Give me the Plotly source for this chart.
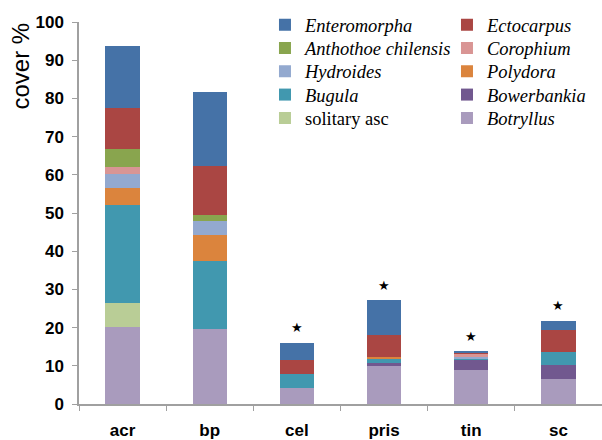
import plotly.graph_objects as go

sites = ["acr", "bp", "cel", "pris", "tin", "sc"]

# stacked from bottom to top
botryllus    = [20.2, 19.6, 4.1, 10.2, 8.8, 6.6]
solitary_asc = [6.2, 0.0, 0.0, 0.0, 0.0, 0.0]
bowerbankia  = [0.0, 0.0, 0.0, 0.5, 2.9, 3.6]
bugula       = [25.7, 17.9, 3.7, 1.1, 0.3, 3.3]
polydora     = [4.5, 6.8, 0.0, 0.4, 0.0, 0.0]
hydroides    = [3.6, 3.5, 0.0, 0.0, 0.4, 0.0]
corophium    = [1.8, 0.0, 0.0, 0.0, 0.8, 0.0]
anthothoe    = [4.7, 1.8, 0.0, 0.0, 0.0, 0.0]
ectocarpus   = [10.7, 12.8, 3.8, 5.8, 0.3, 5.9]
enteromorpha = [16.3, 19.4, 4.3, 9.1, 0.3, 2.4]

significance = ["", "", "★", "★", "★", "★"]

# (name, values, colour, legend row, legend column)
series = [
    ("<i>Botryllus</i>", botryllus, "#A99BBD", 4, 1),
    ("solitary asc", solitary_asc, "#B9CD96", 4, 0),
    ("<i>Bowerbankia</i>", bowerbankia, "#71588F", 3, 1),
    ("<i>Bugula</i>", bugula, "#4198AF", 3, 0),
    ("<i>Polydora</i>", polydora, "#DB843D", 2, 1),
    ("<i>Hydroides</i>", hydroides, "#93A9CF", 2, 0),
    ("<i>Corophium</i>", corophium, "#D99594", 1, 1),
    ("<i>Anthothoe chilensis</i>", anthothoe, "#89A54E", 1, 0),
    ("<i>Ectocarpus</i>", ectocarpus, "#AA4643", 0, 1),
    ("<i>Enteromorpha</i>", enteromorpha, "#4572A7", 0, 0),
]

fig = go.Figure()
legend_layout = {}
col_x = [0.3556, 0.7036]
row_y0, row_step = 1.0415, 0.061
for k, (name, vals, color, row, col) in enumerate(series):
    lname = "legend" if k == 0 else f"legend{k + 1}"
    fig.add_trace(go.Bar(
        x=sites, y=vals, name=name, legend=lname,
        marker=dict(color=color, line=dict(width=0)),
    ))
    legend_layout[lname] = dict(
        x=col_x[col], y=row_y0 - row * row_step, xanchor="left", yanchor="top",
        font=dict(family="Liberation Serif, Times New Roman", size=18.5, color="black"),
        bgcolor="rgba(0,0,0,0)", itemclick=False, itemdoubleclick=False,
    )

totals = [sum(s[1][i] for s in series) for i in range(len(sites))]
for site, tot, sig in zip(sites, totals, significance):
    if sig:
        fig.add_annotation(x=site, y=tot + 4, text=sig, showarrow=False,
                           font=dict(size=13, color="black"), xref="x", yref="y")

fig.add_annotation(x=-0.111, xref="paper", xanchor="center", y=1.005, yref="paper",
                   yanchor="top", text="cover %", textangle=-90, showarrow=False,
                   font=dict(family="Arial, Liberation Sans", size=24, color="black"))

fig.update_layout(
    width=602, height=440,
    margin=dict(l=79, r=0, t=22, b=36, autoexpand=False),
    barmode="stack", bargap=0.607,
    plot_bgcolor="white", paper_bgcolor="white",
    showlegend=True,
    font=dict(family="Arial, Liberation Sans", color="black"),
    **legend_layout,
)
fig.update_xaxes(
    showline=True, linecolor="#A0A0A0", linewidth=1.5,
    ticks="outside", tickson="boundaries", ticklen=5, tickcolor="#A0A0A0",
    tickfont=dict(size=17, family="Arial, Liberation Sans", weight="bold"),
    ticklabelstandoff=10,
    showgrid=False, automargin=False,
)
fig.update_yaxes(
    range=[0, 100], dtick=10, showline=True, linecolor="#A0A0A0", linewidth=1.5,
    ticks="outside", ticklen=5, tickcolor="#A0A0A0",
    tickfont=dict(size=17, family="Arial, Liberation Sans", weight="bold"),
    ticklabelstandoff=5,
    showgrid=False, zeroline=False, automargin=False,
)

fig.write_html("out.html", config={"displayModeBar": False},
               post_script="document.body.style.margin='0';")
